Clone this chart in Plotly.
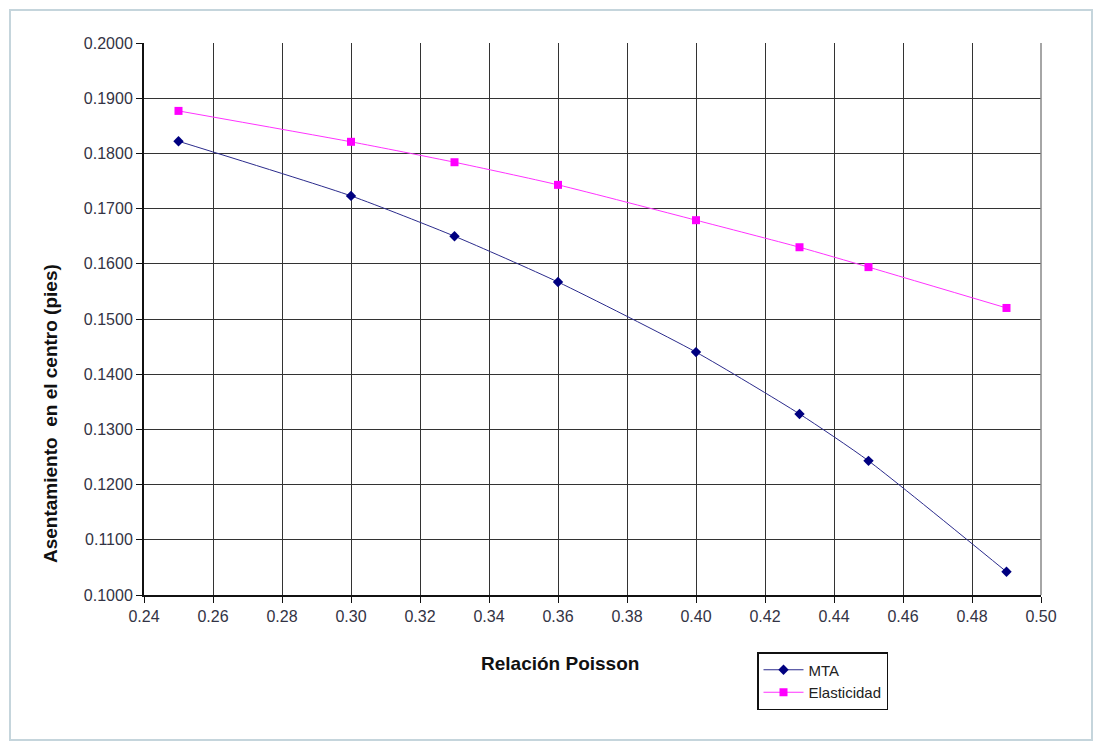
import plotly.graph_objects as go

# Poisson ratio values and central settlement (ft) for each method
poisson = [0.25, 0.30, 0.33, 0.36, 0.40, 0.43, 0.45, 0.49]
mta = [0.1822, 0.1723, 0.1650, 0.1567, 0.1440, 0.1328, 0.1243, 0.1042]
elasticidad = [0.1877, 0.1821, 0.1784, 0.1743, 0.1679, 0.1630, 0.1594, 0.1520]

W, H = 1102, 746
L, R, T, B = 144, 61, 43, 151
pw, ph = W - L - R, H - T - B


def px(x):
    return (x - L) / pw


def py(y):
    return (H - B - y) / ph


fig = go.Figure()
fig.add_trace(go.Scatter(
    x=poisson, y=mta, name="MTA", mode="lines+markers",
    line=dict(color="#2b2b8c", width=1, shape="spline", smoothing=0.6),
    marker=dict(symbol="diamond", size=8, color="#000080"),
))
fig.add_trace(go.Scatter(
    x=poisson, y=elasticidad, name="Elasticidad", mode="lines+markers",
    line=dict(color="#ff33ff", width=1, shape="spline", smoothing=0.6),
    marker=dict(symbol="square", size=8, color="#ff00ff"),
))

axis_font = dict(family="Arial, Liberation Sans, sans-serif", size=16, color="#333344")
title_font = dict(family="Arial, Liberation Sans, sans-serif", size=19, color="#111")
fig.update_layout(
    width=W, height=H,
    margin=dict(l=L, r=R, t=T, b=B),
    paper_bgcolor="white", plot_bgcolor="white",
    font=dict(family="Arial, Liberation Sans, sans-serif"),
    xaxis=dict(
        range=[0.24, 0.50], dtick=0.02, tick0=0.24, tickformat=".2f",
        showgrid=True, gridcolor="#333333", gridwidth=1.3,
        showline=True, linecolor="#111", linewidth=2,
        ticks="outside", ticklen=6, tickcolor="#111",
        tickfont=axis_font, zeroline=False, mirror=False,
    ),
    yaxis=dict(
        range=[0.1000, 0.2000], dtick=0.01, tick0=0.1, tickformat=".4f",
        showgrid=True, gridcolor="#333333", gridwidth=1.3,
        showline=True, linecolor="#111", linewidth=2,
        ticks="outside", ticklen=6, tickcolor="#111",
        tickfont=axis_font, zeroline=False,
    ),
    legend=dict(
        x=px(757), y=py(652), xanchor="left", yanchor="top",
        bordercolor="#111", borderwidth=1.5, bgcolor="white",
        font=dict(size=15, color="#222"), tracegroupgap=2,
        itemwidth=40,
    ),
    annotations=[
        dict(text="<b>Relación Poisson</b>", xref="paper", yref="paper",
             x=px(560), y=py(663), xanchor="center", yanchor="middle",
             showarrow=False, font=title_font),
        dict(text="<b>Asentamiento  en el centro (pies)</b>", xref="paper", yref="paper",
             x=px(50), y=py(414), xanchor="center", yanchor="middle",
             textangle=-90, showarrow=False, font=title_font),
    ],
    shapes=[
        dict(type="rect", xref="paper", yref="paper",
             x0=px(10), x1=px(1092), y0=py(740), y1=py(10),
             line=dict(color="#c5d5dc", width=2), layer="below"),
        dict(type="line", xref="paper", yref="paper",
             x0=1, x1=1, y0=0, y1=1, line=dict(color="#888", width=1.5)),
    ],
)

fig.write_html("out.html")
